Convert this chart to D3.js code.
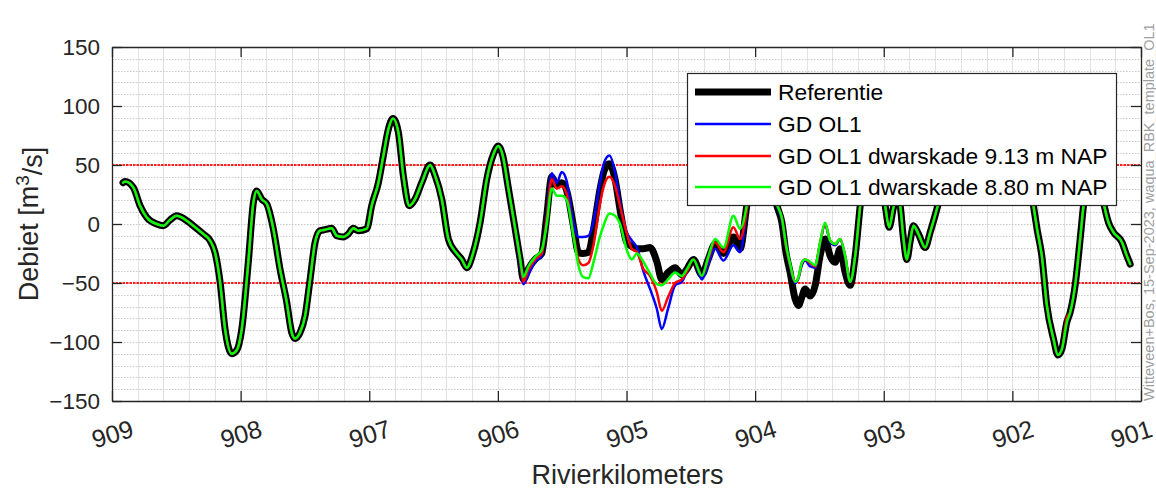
<!DOCTYPE html>
<html>
<head>
<meta charset="utf-8">
<script src="https://cdn.jsdelivr.net/npm/d3@7/dist/d3.min.js"></script>
<style>
  body { margin: 0; background: #fff; }
  svg { display: block; font-family: "Liberation Sans", Arial, sans-serif; }
</style>
</head>
<body>
<svg id="chart" width="1156" height="489"></svg>
<script>
// river km (x) - decreasing downstream
const km = [
  908.914, 908.899, 908.834, 908.782, 908.730, 908.652, 908.601, 908.549, 908.497, 908.458,
  908.419, 908.368, 908.290, 908.238, 908.199, 908.160, 908.121, 908.069, 908.030, 907.991,
  907.940, 907.901, 907.875, 907.836, 907.797, 907.746, 907.694, 907.642, 907.603, 907.577,
  907.538, 907.499, 907.460, 907.421, 907.383, 907.344, 907.292, 907.253, 907.201, 907.163,
  907.124, 907.085, 907.019, 906.981, 906.929, 906.890, 906.851, 906.815, 906.774, 906.735,
  906.688, 906.644, 906.592, 906.527, 906.488, 906.436, 906.385, 906.320, 906.281, 906.242,
  906.191, 906.138, 906.086, 906.035, 905.996, 905.962, 905.918, 905.866, 905.827, 905.802,
  905.763, 905.711, 905.659, 905.620, 905.581, 905.542, 905.503, 905.464, 905.413, 905.374,
  905.338, 905.296, 905.257, 905.205, 905.174, 905.133, 905.089, 905.050, 904.998, 904.959,
  904.918, 904.869, 904.817, 904.764, 904.726, 904.677, 904.622, 904.570, 904.529, 904.480,
  904.414, 904.365, 904.311, 904.246, 904.169, 904.117, 904.065, 904.026, 903.984, 903.930,
  903.883, 903.831, 903.792, 903.759, 903.728, 903.689, 903.663, 903.637, 903.611, 903.572,
  903.533, 903.495, 903.456, 903.417, 903.378, 903.339, 903.300, 903.261, 903.222, 903.183,
  903.137, 903.090, 903.036, 902.989, 902.958, 902.927, 902.900, 902.872, 902.849, 902.820,
  902.795, 902.769, 902.730, 902.678, 902.639, 902.587, 902.523, 902.406, 902.289, 902.173,
  902.056, 901.939, 901.877, 901.836, 901.807, 901.771, 901.732, 901.680, 901.646, 901.615,
  901.576, 901.551, 901.512, 901.473, 901.447, 901.395, 901.333, 901.294, 901.253, 901.214,
  901.148, 901.110, 901.084
];

const referentie = [
  35, 36, 31, 15.5, 5.6, 0, -1.4, 3.4, 7, 5.6,
  2.8, -1.4, -8.5, -14, -24, -49, -89, -110, -107, -89,
  -32, 18, 28, 21, 17, -4, -38, -66, -92, -97,
  -92, -78, -47, -15.5, -5.7, -4.8, -3.7, -10, -11, -8.5,
  -3.7, -5.7, -4, 15.5, 35, 58, 80.5, 89.5, 78, 41,
  15.5, 21, 35, 50, 41, 21, -12.7, -25, -30, -37,
  -24, 1.4, 38, 59, 66, 58, 30, -4, -30, -47,
  -38, -30, -25, 7, 40, 32.5, 35, 28, -1.4, -24,
  -25, -24, -5, 30, 45, 51, 38, 12, -15.5, -19,
  -21, -21, -20, -32, -47, -41, -37, -43, -38, -30,
  -43, -30, -17, -25, -11, -21, 15.5, 44, 60, 60,
  40, 15.5, 1.4, -25, -41, -63.5, -69, -62, -55, -61,
  -52, -27, -12.7, -27, -32.5, -21, -41, -52, -27, 15.5,
  55, 70, 45, 15.5, -2.8, 12.7, 25, 15.5, -10, -30,
  -15, -1.4, -8.5, -20, -7, 12.7, 40, 75, 55, 80,
  60, 70, 45, 15.5, -5, -27, -69, -97.5, -111, -106,
  -83, -75, -52, -12.7, 15.5, 50, 45, 20, 1.4, -7,
  -15.5, -27, -34
];

const gdOl1 = [
  35, 36, 31, 15.5, 5.6, 0, -1.4, 3.4, 7, 5.6,
  2.8, -1.4, -8.5, -14, -24, -49, -89, -110, -107, -89,
  -32, 18, 28, 21, 17, -4, -38, -66, -92, -97,
  -92, -78, -47, -15.5, -5.7, -4.8, -3.7, -10, -11, -8.5,
  -3.7, -5.7, -4, 15.5, 35, 58, 80.5, 89.5, 78, 41,
  15.5, 21, 35, 50, 41, 21, -12.7, -25, -30, -37,
  -24, 1.4, 38, 59, 66, 58, 30, -6, -34, -51,
  -43, -32, -27, 8, 43, 35, 44, 36, 1.4, -11,
  -11, -10, 2, 36, 52, 58, 44, 18, -7, -14,
  -20, -40, -55, -72, -89, -72, -52, -49, -40, -30,
  -47, -34, -21, -31, -18, -24, 12, 42, 60, 60,
  40, 16, 3, -20, -36, -50, -46, -35, -31, -36,
  -37, -17, 0, -15, -18, -13, -28, -49, -27, 15.5,
  55, 70, 45, 15.5, -2.8, 12.7, 25, 15.5, -10, -30,
  -15, -1.4, -8.5, -20, -7, 12.7, 40, 75, 55, 80,
  60, 70, 45, 15.5, -5, -27, -69, -97.5, -111, -106,
  -83, -75, -52, -12.7, 15.5, 50, 45, 20, 1.4, -7,
  -15.5, -27, -34
];

const gdOl1Kade913 = [
  35, 36, 31, 15.5, 5.6, 0, -1.4, 3.4, 7, 5.6,
  2.8, -1.4, -8.5, -14, -24, -49, -89, -110, -107, -89,
  -32, 18, 28, 21, 17, -4, -38, -66, -92, -97,
  -92, -78, -47, -15.5, -5.7, -4.8, -3.7, -10, -11, -8.5,
  -3.7, -5.7, -4, 15.5, 35, 58, 80.5, 89.5, 78, 41,
  15.5, 21, 35, 50, 41, 21, -12.7, -25, -30, -37,
  -24, 1.4, 38, 59, 66, 58, 30, -5, -31, -49,
  -39, -30, -25, 5, 38, 30, 32, 25, -8, -30,
  -35, -33, -18, 18, 33, 40, 32, 15, -8, -21,
  -24, -38, -44, -58, -73.5, -62, -50, -47, -40, -30,
  -44, -30, -15.5, -24, -2.8, -12.7, 12, 44, 60, 60,
  40, 17, 5, -20, -35, -49, -45, -33, -30, -33,
  -36, -16, 0, -14, -17, -12.7, -27, -49, -27, 15.5,
  55, 70, 45, 15.5, -2.8, 12.7, 25, 15.5, -10, -30,
  -15, -1.4, -8.5, -20, -7, 12.7, 40, 75, 55, 80,
  60, 70, 45, 15.5, -5, -27, -69, -97.5, -111, -106,
  -79, -75, -52, -12.7, 15.5, 50, 45, 20, 1.4, -7,
  -15.5, -27, -34
];

const gdOl1Kade880 = [
  35, 36, 31, 15.5, 5.6, 0, -1.4, 3.4, 7, 5.6,
  2.8, -1.4, -8.5, -14, -24, -49, -89, -110, -107, -89,
  -32, 18, 28, 21, 17, -4, -38, -66, -92, -97,
  -92, -78, -47, -15.5, -5.7, -4.8, -3.7, -10, -11, -8.5,
  -3.7, -5.7, -4, 15.5, 35, 58, 80.5, 89.5, 78, 41,
  15.5, 21, 35, 50, 41, 21, -12.7, -25, -30, -37,
  -24, 1.4, 38, 59, 66, 58, 30, -3, -29, -45,
  -36, -28, -22, 0, 30, 24, 24, 20, -10, -35,
  -45, -46, -32.5, -10, 0, 9, 7, 0, -22, -30,
  -25, -32, -42, -51, -52, -47, -41, -44, -38, -30,
  -44, -28, -12.7, -20, 7, -4, 16, 46, 60, 60,
  40, 17, 5, -18, -34, -49, -45, -32.5, -30, -32,
  -35, -15.5, 1, -14, -17, -12.7, -27, -49, -27, 15.5,
  55, 70, 45, 15.5, -2.8, 12.7, 25, 15.5, -10, -30,
  -15, -1.4, -8.5, -20, -7, 12.7, 40, 75, 55, 80,
  60, 70, 45, 15.5, -5, -27, -69, -97.5, -111, -106,
  -83, -75, -52, -12.7, 15.5, 50, 45, 20, 1.4, -7,
  -15.5, -27, -34
];

const seriesNames = ["Referentie", "GD OL1", "GD OL1 dwarskade 9.13 m NAP", "GD OL1 dwarskade 8.80 m NAP"];
const seriesColors = ["#000000", "#0000ff", "#ff0000", "#00ff00"];
const seriesWidths = [7, 2.5, 2.5, 2.5];
const xTicks = [909, 908, 907, 906, 905, 904, 903, 902, 901];
const yTicks = [-150, -100, -50, 0, 50, 100, 150];
const limitLines = [50, -50];

const width = 1156, height = 489;
const margins = { top: 47, bottom: 88, left: 112, right: 15 };
const axisColor = "#262626";

const svg = d3.select("#chart");

const x = d3.scaleLinear().domain([909, 901]).range([margins.left, width - margins.right]);
const y = d3.scaleLinear().domain([-150, 150]).range([height - margins.bottom, margins.top]);

const x0 = x.range()[0], x1 = x.range()[1];
const y0 = y.range()[1], y1 = y.range()[0];

// grid
const grid = svg.append("g");
grid.selectAll("line.vmin")
  .data(d3.range(0, 41).map((i) => 901 + i * 0.2))
  .enter()
  .append("line")
  .attr("x1", (d) => Math.round(x(d)) + 0.5)
  .attr("x2", (d) => Math.round(x(d)) + 0.5)
  .attr("y1", y0)
  .attr("y2", y1)
  .attr("stroke", "#e2e2e2")
  .attr("stroke-width", 1);

grid.selectAll("line.hmin")
  .data(d3.range(-150, 151, 10))
  .enter()
  .append("line")
  .attr("x1", x0)
  .attr("x2", x1)
  .attr("y1", (d) => Math.round(y(d)) + 0.5)
  .attr("y2", (d) => Math.round(y(d)) + 0.5)
  .attr("stroke", "#c8c8c8")
  .attr("stroke-dasharray", "1.5,1.5")
  .attr("stroke-width", 1);

// red limit lines (dotted); two pixel rows so the red survives compression
svg.append("g")
  .attr("class", "limits")
  .selectAll("line")
  .data(limitLines)
  .enter()
  .append("line")
  .attr("x1", x0)
  .attr("x2", x1)
  .attr("y1", (d) => Math.round(y(d)))
  .attr("y2", (d) => Math.round(y(d)))
  .style("stroke", "#ff2020")
  .style("stroke-dasharray", "2.5,1")
  .style("stroke-width", "1.8px");

// lines
svg.append("clipPath").attr("id", "plotclip")
  .append("rect")
  .attr("x", x0).attr("y", y0)
  .attr("width", x1 - x0).attr("height", y1 - y0);

const allSeries = [referentie, gdOl1, gdOl1Kade913, gdOl1Kade880];
const line = d3.line()
  .x((d) => x(d[0]))
  .y((d) => y(d[1]))
  .curve(d3.curveMonotoneX);

svg.append("g")
  .attr("clip-path", "url(#plotclip)")
  .selectAll("path")
  .data(allSeries)
  .enter()
  .append("path")
  .attr("d", (vals) => line(km.map((k, i) => [k, vals[i]])))
  .attr("fill", "none")
  .attr("stroke", (d, i) => seriesColors[i])
  .attr("stroke-width", (d, i) => seriesWidths[i])
  .attr("stroke-linejoin", "round")
  .attr("stroke-linecap", "round");

// axes
const xAxis = d3.axisBottom(x).tickValues(xTicks).tickSize(-10).tickSizeOuter(0).tickFormat(d3.format("d"));
const xAxisTop = d3.axisTop(x).tickValues(xTicks).tickSize(-10).tickSizeOuter(0).tickFormat("");
const yAxis = d3.axisLeft(y).tickValues(yTicks).tickSize(-10).tickSizeOuter(0).tickPadding(12);
const yAxisRight = d3.axisRight(y).tickValues(yTicks).tickSize(-10).tickSizeOuter(0).tickFormat("");

const gx = svg.append("g").attr("transform", `translate(0,${y1})`).call(xAxis);
svg.append("g").attr("transform", `translate(0,${y0})`).call(xAxisTop);
svg.append("g").attr("transform", `translate(${x0},0)`).call(yAxis);
svg.append("g").attr("transform", `translate(${x1},0)`).call(yAxisRight);

svg.selectAll(".domain").attr("stroke", axisColor).attr("stroke-width", 1.3);
svg.selectAll(".tick line").attr("stroke", axisColor).attr("stroke-width", 1.3);
svg.selectAll(".tick text")
  .attr("fill", axisColor)
  .style("font-size", "22.5px")
  .style("font-family", "'Liberation Sans', Arial, sans-serif");

// rotated x tick labels, the last one pulled in so it stays on the page
gx.selectAll("text")
  .attr("y", 0)
  .attr("dy", "0.35em")
  .attr("text-anchor", "middle")
  .style("font-size", "25px")
  .attr("transform", (d) => `translate(${d === 901 ? -10 : 0},33) rotate(-17)`);

// axis labels
svg.append("text")
  .attr("x", (x0 + x1) / 2 + 1)
  .attr("y", 484)
  .attr("text-anchor", "middle")
  .attr("fill", axisColor)
  .style("font-size", "27px")
  .text("Rivierkilometers");

const ylab = svg.append("text")
  .attr("transform", `translate(38,${(y0 + y1) / 2}) rotate(-90)`)
  .attr("text-anchor", "middle")
  .attr("fill", axisColor)
  .style("font-size", "27px");
ylab.append("tspan").text("Debiet [m");
ylab.append("tspan").attr("dy", "-0.45em").style("font-size", "19px").text("3");
ylab.append("tspan").attr("dy", "0.45em").text("/s]");

// legend
const legend = svg.append("g");
legend.append("rect")
  .attr("x", 687.5).attr("y", 73.5)
  .attr("width", 429).attr("height", 132)
  .attr("fill", "#fff")
  .attr("stroke", axisColor)
  .attr("stroke-width", 1.2);
const legendRows = [92, 124, 156, 187];
seriesNames.forEach((name, i) => {
  legend.append("line")
    .attr("x1", 695).attr("x2", 771)
    .attr("y1", legendRows[i]).attr("y2", legendRows[i])
    .attr("stroke", seriesColors[i])
    .attr("stroke-width", seriesWidths[i]);
  legend.append("text")
    .attr("x", 778).attr("y", legendRows[i])
    .attr("dy", "0.36em")
    .attr("fill", "#000")
    .style("font-size", "22.8px")
    .text(name);
});

// stamp on the right
svg.append("text")
  .attr("transform", "translate(1154,401) rotate(-90)")
  .attr("fill", "#a0a0a0")
  .style("font-size", "14.5px")
  .text("Witteveen+Bos, 15-Sep-2023, waqua_RBK_template_OL1");
</script>
</body>
</html>
